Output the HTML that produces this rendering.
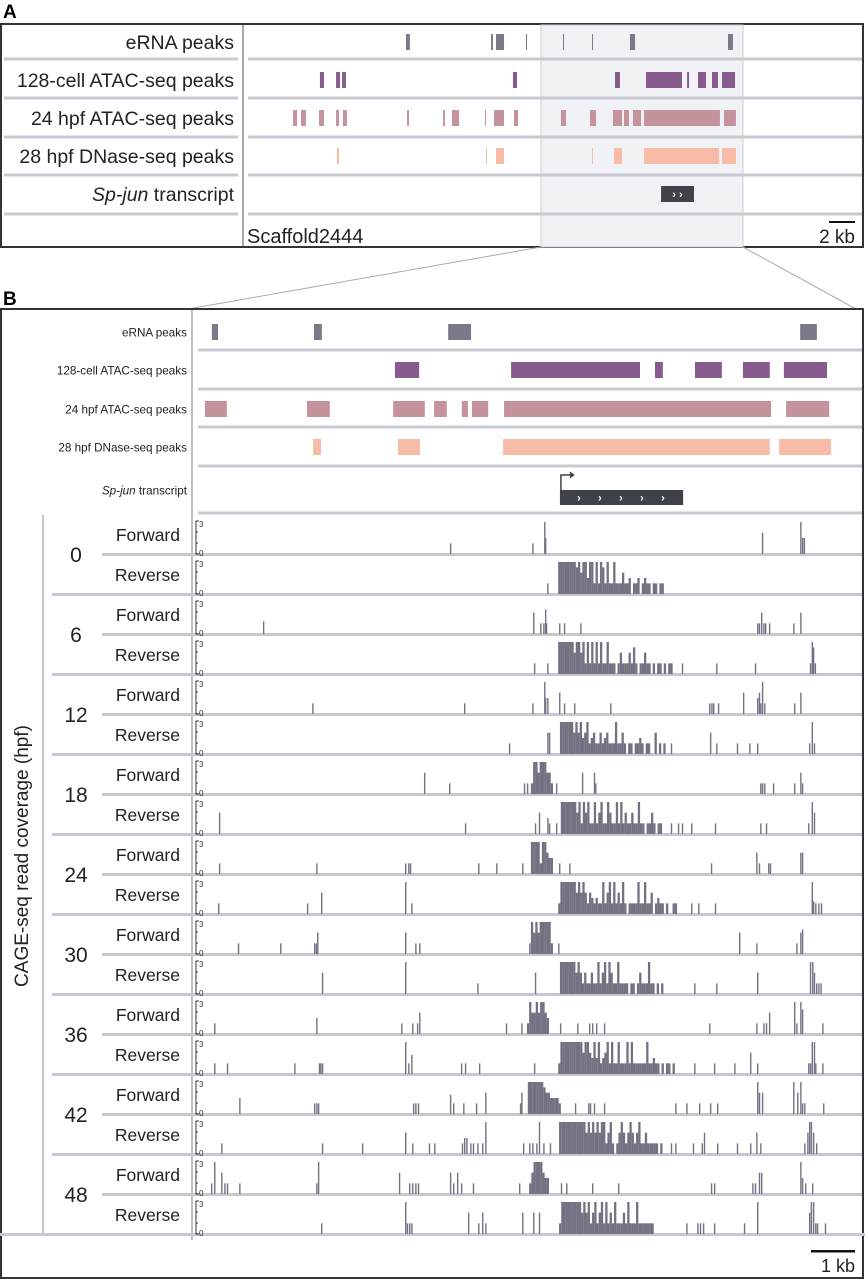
<!DOCTYPE html>
<html><head><meta charset="utf-8"><style>
html,body{margin:0;padding:0;background:#fff;}
svg{display:block;font-family:"Liberation Sans",sans-serif;}
</style></head><body>
<svg id="fig" width="865" height="1280" viewBox="0 0 865 1280">
<g id="static">
<text x="3" y="18" font-size="19" font-weight="bold">A</text>
<rect x="1" y="24" width="862" height="223" fill="none" stroke="#333" stroke-width="2"/>
<text x="3" y="305" font-size="19" font-weight="bold">B</text>
<line x1="541" y1="247" x2="188" y2="309" stroke="#aaa" stroke-width="1"/>
<line x1="743" y1="247" x2="856" y2="309" stroke="#aaa" stroke-width="1"/>
<rect x="1" y="309" width="862" height="969" fill="none" stroke="#333" stroke-width="2"/>
</g>
<g id="gA"></g>
<g id="gB"></g>
<g id="gC"></g>
</svg>
<script>
// ---------- Panel A data (kb) ----------
const aRowLabels = ['eRNA peaks','128-cell ATAC-seq peaks','24 hpf ATAC-seq peaks','28 hpf DNase-seq peaks'];
const aERNA = [[12.0,12.3],[18.54,18.69],[18.92,19.54],[21.23,21.31],[24.08,24.15],[26.31,26.38],[29.23,29.62],[36.77,37.15]];
const aATAC128 = [[5.38,5.69],[6.62,6.92],[7.08,7.38],[20.23,20.54],[28.08,28.46],[30.46,33.23],[33.62,33.77],[34.46,35.08],[35.54,36.0],[36.31,37.31]];
const aATAC24 = [[3.31,3.62],[3.92,4.31],[5.31,5.69],[6.62,6.85],[7.15,7.46],[12.08,12.23],[14.85,15.0],[15.54,16.08],[18.08,18.15],[18.77,19.54],[20.31,20.62],[23.92,24.31],[26.15,26.62],[27.92,28.62],[28.77,29.15],[29.46,30.08],[30.31,36.15],[36.46,37.38]];
const aDNase = [[6.69,6.85],[18.15,18.23],[18.92,19.54],[26.31,26.38],[28.0,28.62],[30.31,36.08],[36.31,37.38]];
const aTranscript = [31.62,34.15];
const aHighlight = [22.38,37.92];
// ---------- Panel B peak data (kb) ----------
const bERNA = [[0.27,0.41],[2.59,2.77],[5.64,6.16],[13.64,14.02]];
const bATAC128 = [[4.43,4.98],[7.07,10.0],[10.34,10.52],[11.25,11.86],[12.34,12.95],[13.27,14.25]];
const bATAC24 = [[0.11,0.61],[2.43,2.95],[4.39,5.11],[5.32,5.61],[5.95,6.09],[6.18,6.55],[6.91,12.98],[13.32,14.3]];
const bDNase = [[2.57,2.75],[4.5,5.0],[6.89,12.95],[13.16,14.34]];
const bTranscript = [8.18,10.98];
// ---------- CAGE data: singles [kb,height], clusters [startKb,[heights]] ----------
const timeLabels = ['0','6','12','18','24','30','36','42','48'];
const s0F=[[5.68,1],[7.55,1],[7.82,3],[7.84,1.5],[12.77,2],[13.64,3],[13.68,1.5],[13.72,1.5]];
const s0R=[[7.89,1]];
const c0R=[8.14,[3,3,3,3,3,3,3,3,2.5,3,2,3,3,1.5,3,3,1,3,1,3,2.5,1,3,1,1,3,1,1,1,2,1,1,1.5,0,1,1,1.5,0,1,1.5,1,1,0,1,1,0,1,1]];
const s6F=[[1.43,1.2],[7.57,2],[7.73,1],[7.8,1],[7.84,2.3],[7.86,1],[8.16,1],[8.27,1],[8.64,1],[12.66,1],[12.7,1],[12.75,2],[12.8,1],[12.84,1],[12.93,1],[13.48,1],[13.64,2]];
const s6R=[[7.59,1],[7.89,1],[10.95,1],[11.73,1],[12.61,1],[13.86,1],[13.9,3],[13.93,2.5],[13.97,1]];
const c6R=[8.14,[3,3,3,3,3,3,3,2,3,3,2,3,1,3,1,3,1,3,1,3,1,1,3,1,1,1,0,1,2,1,1,1,2,1,2.5,1,0,1,1,2,1,1,0,1,0,1,1,0,1,0,1,1]];
const s12F=[[2.55,1],[6.0,1],[7.55,1],[7.82,3],[7.84,1.5],[7.89,1.5],[8.16,2],[8.27,1],[8.5,1],[9.32,1],[11.57,1],[11.62,1],[11.66,1],[11.77,1],[12.34,2],[12.66,1.5],[12.7,2],[12.73,1],[12.77,3],[12.82,1],[13.5,1],[13.64,2]];
const s12R=[[7.02,1],[7.89,2],[7.93,2],[10.7,1],[11.59,2],[11.73,1],[12.2,1],[12.48,1],[12.66,1],[13.84,1],[13.9,3],[13.95,1]];
const c12R=[8.18,[3,3,3,3,3,3,2,3,2,3,1.5,2,3,1,1.5,2,1,1,2,1,1.5,2,1,1,1,3,1,1,2,1,0,1,1,0,1,1,1.5,1,0,1,1,0,0,2,0,1,0,1]];
const s18F=[[5.09,2],[5.66,1],[7.36,1],[7.43,1],[8.09,1],[8.68,2],[8.95,2],[8.98,1],[12.73,1],[12.77,1],[12.82,1],[13.02,1],[13.5,1],[13.64,2],[13.68,1]];
const c18F=[7.52,[1,3,3,2,3,3,3,2,2,1]];
const s18R=[[0.43,2],[6.02,1],[7.61,1],[7.7,2],[7.89,1.5],[7.93,1],[8.09,1],[10.7,1],[10.86,1],[10.95,1],[11.16,1],[11.7,1],[12.73,1],[12.86,1],[13.82,1],[13.9,3],[13.95,2]];
const c18R=[8.2,[3,3,3,3,3,3,3,2,3,1,3,2,3,1,1,3,1,2,3,1,1,3,2,1,1,3,1,3,1,2,1,1,2,1,1,3,1,1,0,1,1,2,1,0,1,1]];
const s24F=[[0.43,1],[2.64,1],[4.66,1],[4.73,1],[4.77,1],[6.32,1],[6.73,1],[7.32,1],[8.16,1],[8.39,1],[11.61,1],[12.64,2],[12.7,1],[12.91,1],[12.95,1],[13.64,2],[13.68,2]];
const c24F=[7.52,[3,3,3,3,1,3,3,2,1.5,1.5]];
const s24R=[[0.41,1],[2.43,1],[2.75,2],[4.66,3],[4.8,1],[11.16,1],[11.32,1],[11.7,1],[13.9,3],[13.93,1.2],[13.98,1],[14.05,1],[14.11,1]];
const c24R=[8.14,[1,3,3,3,3,3,3,3,2,3,2,3,2,1,2,1.5,1,1.5,1,1,3,1,2,3,1,3,1,2,1,3,1,0,1,1,1,1,3,1,1,3,1,1,2,0,1,1.5,1,1,0,1,0,0,1,1]];
const s30F=[[0.86,1],[1.82,1],[2.59,1],[2.63,1],[2.66,2],[4.66,2],[4.89,1],[4.98,1],[7.48,1],[8.14,1],[12.25,2],[12.64,1],[13.55,1],[13.64,2],[13.68,2.3]];
const c30F=[7.52,[3,2,3,2,3,3,3,3,3,1]];
const s30R=[[2.77,2],[4.66,3],[6.3,1],[7.61,2],[11.23,1],[11.73,1],[12.66,2],[13.86,3],[13.91,3],[13.95,2],[14.0,1],[14.05,1],[14.1,1]];
const c30R=[8.18,[3,3,3,3,3,3,3,2,3,2,1,2,1,1,2,1,1,3,1,2,3,1,3,2,1,1,3,1,1,1,1,0,1,1,0,1,2,1,1,1,3,1,1,0,1,0,1]];
const s36F=[[0.32,1],[2.64,1.5],[4.57,1],[4.82,1],[4.93,1],[4.98,2],[6.95,1],[7.3,1],[8.18,1],[8.57,1],[8.84,1],[8.91,1],[9.0,1],[9.18,1],[11.57,1],[12.64,1],[12.8,1],[12.86,1],[12.93,2],[13.5,3],[13.55,1],[13.64,3],[13.68,2.3],[14.14,1]];
const c36F=[7.43,[1,3,2,2,3,2,3,3,2,1.5]];
const s36R=[[0.32,1],[0.61,1],[2.14,1],[2.7,1],[2.73,1],[2.77,1],[4.66,3],[4.73,1],[4.8,1.8],[5.93,1],[6.02,1],[6.34,1],[7.59,1],[11.23,1],[11.68,1],[12.14,1],[12.5,2],[12.66,1],[13.82,1],[13.86,1],[13.9,3],[13.95,3],[13.98,1],[14.14,1]];
const c36R=[8.14,[1,3,3,3,3,3,3,3,3,3,3,2,3,3,2,1.5,3,1.5,3,1,1.5,2,3,1,3,1,1,3,1,1,1,3,1,3,1,1,1,1,1,1,3,1,1,1.5,1,1,0,1,0,1,1,0,1]];
const s42F=[[0.89,1.5],[2.59,1],[2.64,1],[2.68,1],[4.84,1],[4.89,1],[4.95,1],[5.68,1.8],[5.75,1],[5.98,1],[6.27,1],[6.48,2],[7.27,1],[7.3,2],[8.52,1],[8.82,1],[8.86,1],[8.95,1],[9.18,1],[10.8,1],[11.05,1],[11.34,1],[11.59,1],[11.75,1],[12.66,3],[12.7,2],[12.77,2],[13.48,3],[13.57,2],[13.64,3],[13.68,1],[13.73,1],[14.16,1]];
const c42F=[7.45,[3,3,3,3,3,3,3,2.5,2,2,1.5,1.5,1.5,1.5,1]];
const s42R=[[0.48,1],[2.77,1],[3.68,1],[4.66,2],[4.82,1],[5.2,1],[5.32,1],[5.95,1],[6.0,1.5],[6.05,1.5],[6.14,1],[6.2,1],[6.3,1],[6.41,1],[6.48,3],[7.34,1],[7.48,1],[7.55,1],[7.64,1],[7.7,3],[7.8,1],[7.95,1],[10.7,1],[10.8,1],[11.2,1],[11.4,1],[11.45,2],[11.75,1],[12.2,1],[12.5,1],[12.64,2],[12.73,1],[13.73,1],[13.8,2],[13.84,3],[13.88,3],[13.93,2],[14.0,1]];
const c42R=[8.16,[3,3,3,3,3,3,3,3,3,3,3,3,2,3,2,3,2,3,2,3,3,1,2,3,1,0,1,2,3,2,1,2,3,2,1,2,3,1,1,2,1,1,1,1,1,0,1]];
const s48F=[[0.25,1],[0.32,3],[0.48,2],[0.55,1],[0.61,1],[0.89,1],[2.64,1],[2.68,3],[4.52,2],[4.75,1],[4.82,1],[4.89,1],[4.95,1],[5.68,2],[5.75,1],[5.84,2],[5.93,1],[6.2,1],[7.25,1],[8.2,1],[8.32,1],[8.91,1],[9.5,1],[11.61,1],[11.68,1],[12.55,1],[12.61,1],[12.7,2],[12.75,2],[13.64,3],[13.68,1.5],[13.75,1],[13.91,1]];
const c48F=[7.48,[1,2,3,3,3,3,2,1.5,1.5]];
const s48R=[[2.75,1],[4.66,3],[4.7,1],[4.75,1],[4.8,1],[6.09,2],[6.32,1],[6.41,2],[6.48,1],[7.32,2],[7.57,2],[7.7,2],[11.05,1],[11.3,1],[11.36,1],[11.43,1],[11.68,1],[12.36,1],[12.66,3],[13.84,2],[13.88,3],[13.93,3],[13.98,1],[14.02,1],[14.2,1]];
const c48R=[8.16,[1,3,3,3,3,3,3,3,3,3,2,3,2,3,1,2,3,1,2,3,1,3,1,2,1,3,1,1,1,2,1,3,1,1,1,3,1,1,1,1,1,1,1]];

const NS='http://www.w3.org/2000/svg';
function mk(tag, attrs, parent){const e=document.createElementNS(NS,tag);for(const k in attrs)e.setAttribute(k,attrs[k]);parent.appendChild(e);return e;}
const xA = kb => 250 + kb*13;
const xB = kb => 200 + kb*44;
const yH = h => h*32/3;

// ---------- Panel A ----------
const gA=document.getElementById('gA');
let hl=mk('rect',{x:xA(aHighlight[0]),y:25,width:xA(aHighlight[1])-xA(aHighlight[0]),height:222,fill:'#f1f2f5',stroke:'#cfd0d6','stroke-width':1},gA);


const aRowsY=[42,80,118,156,194];
[59,98,137,175,214].forEach(y=>{
  let l1=mk('rect',{x:4,y:y-1.5,width:234,height:3,fill:'#c9c9d3'},gA);
  
  
  let l2=mk('rect',{x:248,y:y-1.5,width:614,height:3,fill:'#c9c9d3'},gA);
  
  
});
let dv=mk('line',{x1:243,y1:25,x2:243,y2:247,stroke:'#555','stroke-width':1},gA);


aRowLabels.forEach((t,i)=>{
  let tx=mk('text',{x:234,y:aRowsY[i]+7,'font-size':19.5,'text-anchor':'end',fill:'#222'},gA);
  tx.textContent=t;
  
  
});
let ta=mk('text',{x:234,y:aRowsY[4]+7,'font-size':19.5,'text-anchor':'end',fill:'#222'},gA);
ta.innerHTML='<tspan font-style="italic">Sp-jun</tspan> transcript';


function peaksA(arr,row,color,name){arr.forEach(p=>{
  let r=mk('rect',{x:xA(p[0]),y:aRowsY[row]-8,width:Math.max(1,xA(p[1])-xA(p[0])),height:16,fill:color},gA);
  
  
});}
peaksA(aERNA,0,'#7b7a89','erna-peak');
peaksA(aATAC128,1,'#875b8e','atac128-peak');
peaksA(aATAC24,2,'#c4939b','atac24-peak');
peaksA(aDNase,3,'#f8bba8','dnase-peak');
let trA=mk('rect',{x:xA(aTranscript[0]),y:aRowsY[4]-8,width:xA(aTranscript[1])-xA(aTranscript[0]),height:16,fill:'#3f4249'},gA);


let chA=mk('text',{x:(xA(aTranscript[0])+xA(aTranscript[1]))/2,y:aRowsY[4]+4,'font-size':11,'text-anchor':'middle',fill:'#fff','font-weight':'bold'},gA);
chA.textContent='› ›';


let sc=mk('text',{x:247,y:243,'font-size':20,fill:'#222'},gA);
sc.textContent='Scaffold2444';


let sbA=mk('rect',{x:829,y:221,width:26,height:2,fill:'#111'},gA);


let sbAt=mk('text',{x:855,y:243,'font-size':19,'text-anchor':'end',fill:'#222'},gA);
sbAt.textContent='2 kb';



// ---------- Panel B peaks ----------
const gB=document.getElementById('gB');
const bRowsY=[332,370,409,447,490];
[350,389,427,466,513].forEach(y=>{
  let l=mk('rect',{x:198,y:y-1.5,width:664,height:3,fill:'#c9c9d3'},gB);
  
  
});
let dvB=mk('rect',{x:191,y:310,width:2,height:930,fill:'#b9bdcc'},gB);


aRowLabels.forEach((t,i)=>{
  let tx=mk('text',{x:187,y:bRowsY[i]+4.5,'font-size':11.7,'text-anchor':'end',fill:'#222'},gB);
  tx.textContent=t;
  
  
});
let tb=mk('text',{x:187,y:bRowsY[4]+4.5,'font-size':11.7,'text-anchor':'end',fill:'#222'},gB);
tb.innerHTML='<tspan font-style="italic">Sp-jun</tspan> transcript';


function peaksB(arr,row,color,name){arr.forEach(p=>{
  let r=mk('rect',{x:xB(p[0]),y:bRowsY[row]-8,width:xB(p[1])-xB(p[0]),height:16,fill:color},gB);
  
  
});}
peaksB(bERNA,0,'#7b7a89','erna-peak');
peaksB(bATAC128,1,'#875b8e','atac128-peak');
peaksB(bATAC24,2,'#c4939b','atac24-peak');
peaksB(bDNase,3,'#f8bba8','dnase-peak');
const tx0=xB(bTranscript[0]), tx1=xB(bTranscript[1]);
let trB=mk('rect',{x:tx0,y:490,width:tx1-tx0,height:15,fill:'#3f4249'},gB);


let tss=mk('path',{d:`M${tx0+1},490 V475 H${tx0+11}`,fill:'none',stroke:'#3f4249','stroke-width':1.5},gB);


let tssh=mk('path',{d:`M${tx0+10},471.5 L${tx0+15},475 L${tx0+10},478.5 Z`,fill:'#3f4249'},gB);


for(let i=0;i<5;i++){
  let c=mk('text',{x:tx0+19+i*21,y:501.5,'font-size':11,'font-weight':'bold',fill:'#fff','text-anchor':'middle'},gB);
  c.textContent='›';
  
  
}

// ---------- CAGE tracks ----------
const gC=document.getElementById('gC');
const tracks=[[s0F,null],[s0R,c0R],[s6F,null],[s6R,c6R],[s12F,null],[s12R,c12R],[s18F,c18F],[s18R,c18R],[s24F,c24F],[s24R,c24R],[s30F,c30F],[s30R,c30R],[s36F,c36F],[s36R,c36R],[s42F,c42F],[s42R,c42R],[s48F,c48F],[s48R,c48R]];
const STEP=0.05;
let vl=mk('rect',{x:42,y:515,width:2,height:718,fill:'#c3c6d2'},gC);


let yt=mk('text',{x:0,y:0,'font-size':19,'text-anchor':'middle',fill:'#222',transform:'translate(28,856) rotate(-90)'},gC);
yt.textContent='CAGE-seq read coverage (hpf)';


tracks.forEach((tr,k)=>{
  const base=554+40*k, fwd=k%2===0;
  const lx = k===17?0:(fwd?102:52), lw = k===17?865:862-lx;
  let bl=mk('rect',{x:lx,y:base-1,width:lw,height:3,fill:'#c6c7d1'},gC);
  
  
  let lab=mk('text',{x:180,y:base-13,'font-size':17.5,'text-anchor':'end',fill:'#222'},gC);
  lab.textContent=fwd?'Forward':'Reverse';
  
  
  if(fwd){
    let n=mk('text',{x:76,y:base+8,'font-size':21,'text-anchor':'middle',fill:'#222'},gC);
    n.textContent=timeLabels[k/2];
    
    
  }
  let ax=mk('path',{d:`M199,${base-33} h-3 v33 h3 M196,${base-22} h2 M196,${base-11} h2`,fill:'none',stroke:'#333','stroke-width':1},gC);
  
  
  let t3=mk('text',{x:199,y:base-27,'font-size':8,fill:'#333'},gC);
  t3.textContent='3';
  
  
  let t0=mk('text',{x:199,y:base+2,'font-size':8,fill:'#333'},gC);
  t0.textContent='0';
  
  
  tr[0].forEach(p=>{
    let b=mk('rect',{x:xB(p[0]),y:base-yH(p[1]),width:1.4,height:yH(p[1]),fill:'#737282'},gC);
    
    
  });
  if(tr[1]){
    tr[1][1].forEach((h,i)=>{
      if(h<=0)return;
      let b=mk('rect',{x:xB(tr[1][0]+i*STEP),y:base-yH(h),width:44*STEP+0.1,height:yH(h),fill:'#737282'},gC);
      
      
    });
  }
});
let sbB=mk('rect',{x:811,y:1250,width:44,height:2.5,fill:'#111'},gC);


let sbBt=mk('text',{x:855,y:1272,'font-size':18,'text-anchor':'end',fill:'#222'},gC);
sbBt.textContent='1 kb';


</script>
</body></html>
